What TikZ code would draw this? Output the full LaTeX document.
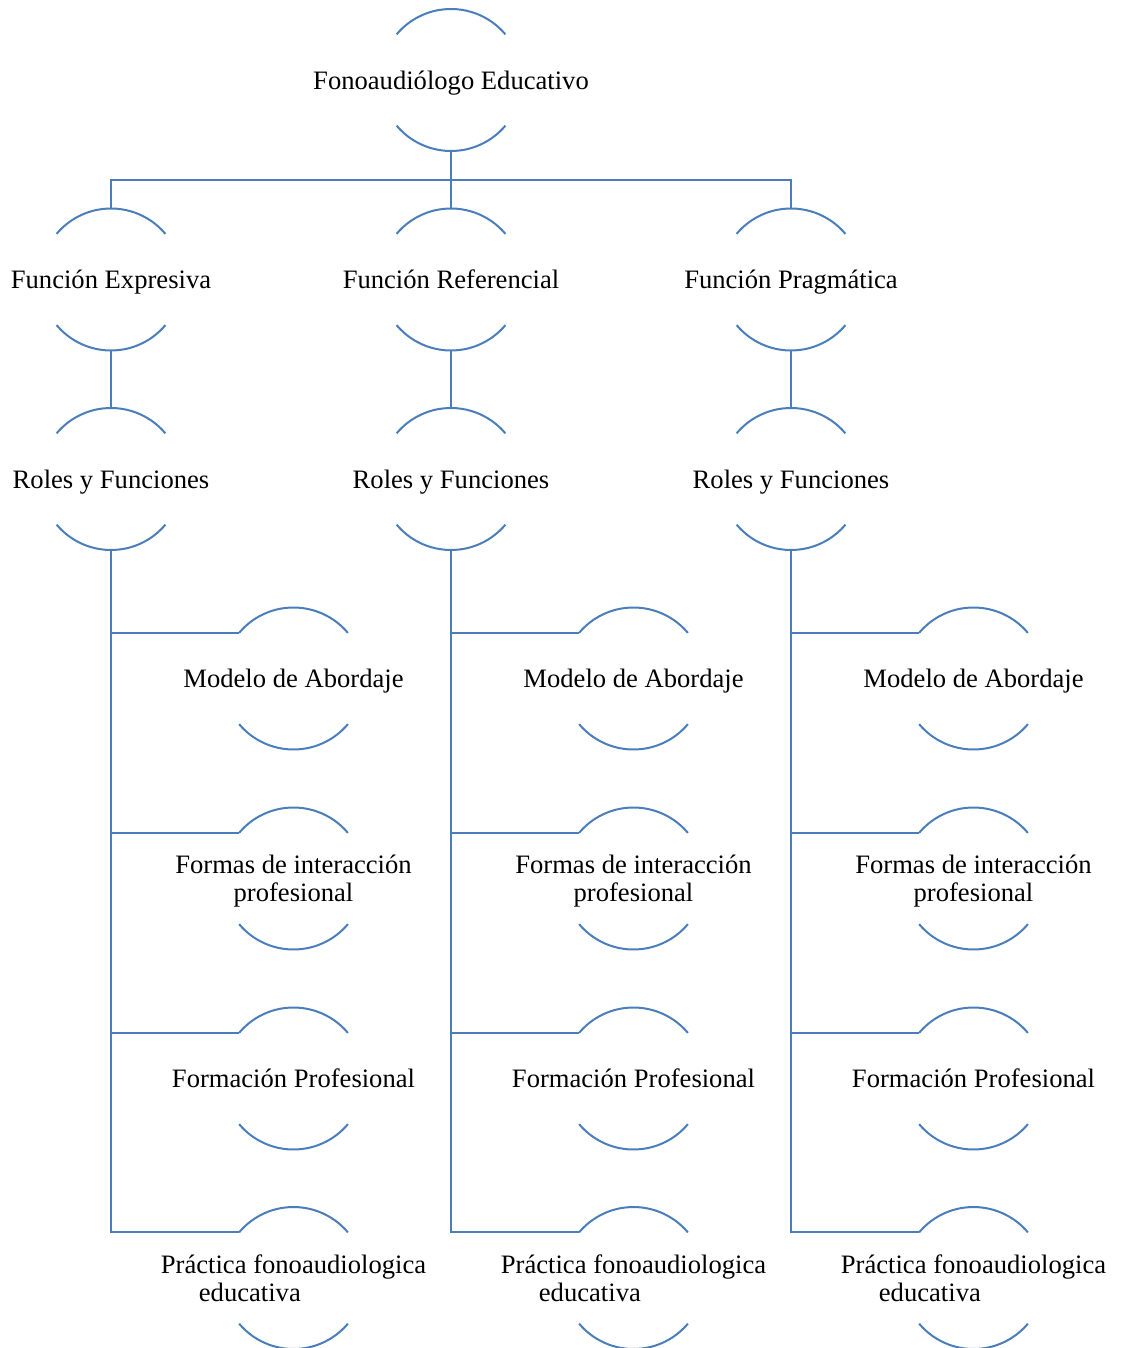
\documentclass[tikz,border=0pt]{standalone}
\usepackage{fontspec}
\setmainfont{Liberation Serif}
\usetikzlibrary{calc}
\definecolor{arcblue}{HTML}{4A7EBB}
\tikzset{
  hnode/.style={circle, draw=none, minimum size=71pt, inner sep=0pt, outer sep=0pt},
  lbl/.style={font=\fontsize{13.3pt}{14pt}\selectfont, align=center, inner sep=0pt, text depth=0pt},
  lbll/.style={font=\fontsize{13.3pt}{14pt}\selectfont, align=left, inner sep=0pt, text depth=0pt},
  conn/.style={draw=arcblue, line width=1pt},
  arcline/.style={draw=arcblue, line width=1pt},
}
\begin{document}
\begin{tikzpicture}[x=0.5pt,y=-0.5pt]
\useasboundingbox (0,0) rectangle (1125,1348);
% top
\node[hnode, label={[lbl]center:Fonoaudiólogo Educativo}] (top) at (451,80) {};
% level 2
\node[hnode, label={[lbl]center:Función Expresiva}] (f1) at (111,279.5) {};
\node[hnode, label={[lbl]center:Función Referencial}] (f2) at (451,279.5) {};
\node[hnode, label={[lbl]center:Función Pragmática}] (f3) at (791,279.5) {};
% level 3
\node[hnode, label={[lbl]center:Roles y Funciones}] (r1) at (111,479) {};
\node[hnode, label={[lbl]center:Roles y Funciones}] (r2) at (451,479) {};
\node[hnode, label={[lbl]center:Roles y Funciones}] (r3) at (791,479) {};
% children
\foreach \i/\x in {1/293.5,2/633.5,3/973.5}{
  \node[hnode, label={[lbl]center:Modelo de Abordaje}] (c\i1) at (\x,678.5) {};
  \node[hnode, label={[lbl]center:Formas de interacción\\profesional}] (c\i2) at (\x,878.5) {};
  \node[hnode, label={[lbl]center:Formación Profesional}] (c\i3) at (\x,1078.5) {};
  \node[hnode, label={[lbll]center:Práctica fonoaudiologica\\\hspace*{19pt}educativa}] (c\i4) at (\x,1278) {};
}
% arcs
\foreach \n in {top,f1,f2,f3,r1,r2,r3,c11,c12,c13,c14,c21,c22,c23,c24,c31,c32,c33,c34}{
  \draw[arcline] (\n.40) arc[start angle=40,end angle=140,radius=35.5pt];
  \draw[arcline] (\n.220) arc[start angle=220,end angle=320,radius=35.5pt];
}
% connectors
\coordinate (j) at (451,180.5);
\draw[conn] (top.south) -- (j);
\draw[conn] (f1.north) |- (j) -| (f3.north);
\draw[conn] (j) -- (f2.north);
\foreach \k in {1,2,3}{
  \draw[conn] (f\k.south) -- (r\k.north);
  \draw[conn] (r\k.south) |- (c\k4.140);
  \draw[conn] (r\k.south |- c\k1.140) -- (c\k1.140);
  \draw[conn] (r\k.south |- c\k2.140) -- (c\k2.140);
  \draw[conn] (r\k.south |- c\k3.140) -- (c\k3.140);
}
\end{tikzpicture}
\end{document}
